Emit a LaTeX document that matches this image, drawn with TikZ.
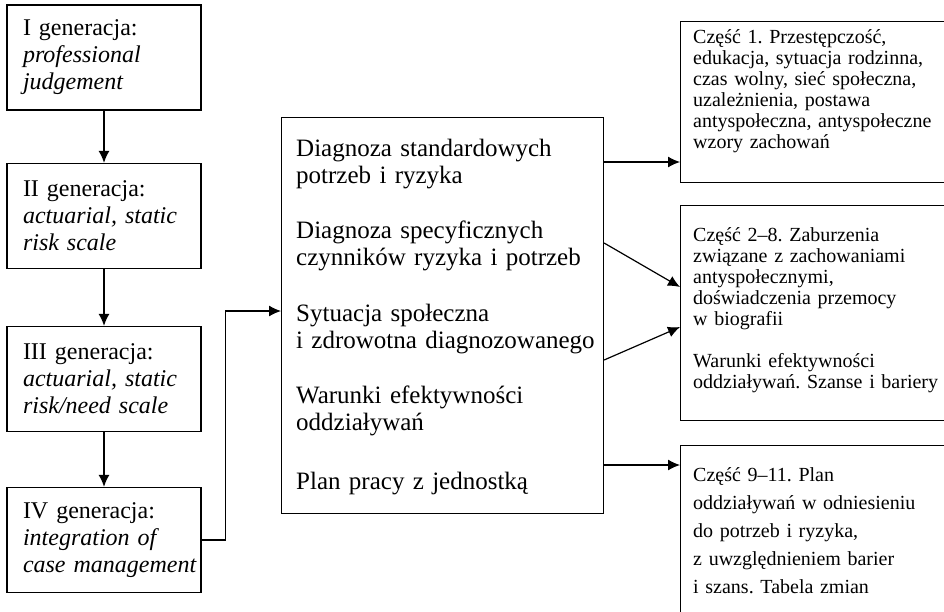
\documentclass[tikz,border=0pt]{standalone}
\usepackage{fontspec}
\setmainfont{Liberation Serif}
\usetikzlibrary{arrows.meta}
\frenchspacing
\begin{document}
\begin{tikzpicture}[x=1pt,y=-1pt,
    box/.style={draw,line width=1.1pt,inner sep=0pt},
    gen/.style={box,minimum width=194pt,minimum height=105pt,text width=162pt,inner xsep=16pt,align=left,font=\fontsize{24}{27}\selectfont},
    big/.style={anchor=base west,inner sep=0pt,text width=300pt,align=left,font=\fontsize{25}{27}\selectfont},
    small/.style={anchor=base west,inner sep=0pt,text width=250pt,align=left,font=\fontsize{20}{21}\selectfont},
    arr/.style={-{Latex[length=12pt,width=11pt]},line width=1.2pt}]
    \useasboundingbox (0,0) rectangle (944,611);
    % generacje
    \node[gen] (g1) at (104,57.5) {I generacja:\\\textit{professional}\\\textit{judgement}};
    \node[gen] (g2) at (104,216) {II generacja:\\\mbox{\textit{actuarial, static}}\\\textit{risk scale}};
    \node[gen] (g3) at (104,379) {III generacja:\\\mbox{\textit{actuarial, static}}\\\mbox{\textit{risk/need scale}}};
    \node[gen] (g4) at (104,540) {IV generacja:\\\textit{integration of}\\\mbox{\textit{case management}}};
    \draw[arr,line width=1.6pt] (g1) -- (g2);
    \draw[arr,line width=1.6pt] (g2) -- (g3);
    \draw[arr,line width=1.6pt] (g3) -- (g4);
    % diagnoza
    \node[box,minimum width=322pt,minimum height=396pt,anchor=north west] (diag) at (281,117) {};
    \node[big] (d1) at (296,156) {Diagnoza standardowych\\potrzeb i ryzyka};
    \node[big] (d2) at (296,238) {Diagnoza specyficznych\\czynników ryzyka i potrzeb};
    \node[big] (d3) at (296,321) {Sytuacja społeczna\\i zdrowotna diagnozowanego};
    \node[big] (d4) at (296,403) {Warunki efektywności\\oddziaływań};
    \node[big] (d5) at (296,489) {Plan pracy z jednostką};
    % czesci
    \node[box,minimum width=270pt,minimum height=161pt,anchor=north west] (p1) at (680,21) {};
    \node[small] (t1) at (693,43) {Część 1. Przestępczość,\\edukacja, sytuacja rodzinna,\\czas wolny, sieć społeczna,\\uzależnienia, postawa\\antyspołeczna, antyspołeczne\\wzory zachowań};
    \node[box,minimum width=270pt,minimum height=215pt,anchor=north west] (p2) at (680,205) {};
    \node[small] (t2) at (693,241) {Część 2–8. Zaburzenia\\związane z zachowaniami\\antyspołecznymi,\\doświadczenia przemocy\\w biografii\\[21pt]Warunki efektywności\\oddziaływań. Szanse i bariery};
    \node[box,minimum width=270pt,minimum height=200pt,anchor=north west] (p3) at (680,445) {};
    \node[small,font=\fontsize{20}{28}\selectfont] (t3) at (693,481) {Część 9–11. Plan\\oddziaływań w odniesieniu\\do potrzeb i ryzyka,\\z uwzględnieniem barier\\i szans. Tabela zmian};
    % strzalki
    \coordinate (i0) at ([yshift=-194pt]diag.north west);
    \draw[arr] (g4.east) -- ++(24,0) |- (i0);
    \coordinate (o1) at ([yshift=-45pt]diag.north east);
    \draw[arr] (o1) -- (o1 -| p1.west);
    \coordinate (o2) at ([yshift=-126pt]diag.north east);
    \coordinate (i2) at ([yshift=-82pt]p2.north west);
    \draw[arr] (o2) -- (i2);
    \coordinate (o3) at ([yshift=-243pt]diag.north east);
    \coordinate (i3) at ([yshift=-122pt]p2.north west);
    \draw[arr] (o3) -- (i3);
    \coordinate (o4) at ([yshift=-348pt]diag.north east);
    \draw[arr] (o4) -- (o4 -| p3.west);
\end{tikzpicture}
\end{document}
